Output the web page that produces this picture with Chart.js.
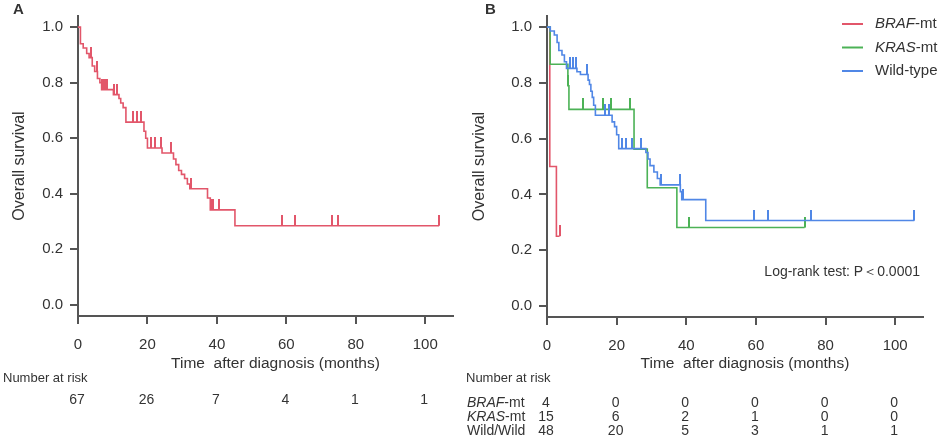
<!DOCTYPE html>
<html>
<head>
<meta charset="utf-8">
<title>Overall survival</title>
<script src="https://cdn.jsdelivr.net/npm/chart.js@4.4.1/dist/chart.umd.min.js"></script>
<style>
	body { margin: 0; background: #fff; }
	#wrap { position: relative; width: 945px; height: 439px; overflow: hidden; }
	#chartA { position: absolute; left: 0; top: 0; }
	#chartB { position: absolute; left: 460px; top: 0; }
</style>
<script>
// ticks shared by both panels
var xTicks = [0, 20, 40, 60, 80, 100];
var yTicks = [0, 0.2, 0.4, 0.6, 0.8, 1.0];

// panel A - all patients (time in months, survival after each step)
var allTime = [0, 0.7, 1.5, 2.5, 3.2, 4.1, 4.8, 5.6, 6.3, 6.8, 10.2, 11.8, 12.3, 13.0, 13.8, 19.0, 19.5, 20.0, 24.2, 27.5, 28.2, 29.0, 29.8, 30.7, 31.5, 32.2, 37.3, 38.1, 45.2, 104];
var allSurv = [1, 0.94, 0.925, 0.905, 0.89, 0.86, 0.84, 0.815, 0.80, 0.775, 0.757, 0.743, 0.727, 0.71, 0.658, 0.625, 0.60, 0.565, 0.547, 0.525, 0.505, 0.484, 0.47, 0.455, 0.435, 0.418, 0.385, 0.342, 0.285, 0.285];
var allCensor = [3.6, 5.5, 6.9, 7.4, 7.9, 8.3, 10.5, 11.3, 15.8, 16.9, 18.2, 21.1, 22.3, 23.8, 26.8, 32.6, 38.4, 39.0, 40.6, 58.8, 62.5, 73.1, 75.0, 104];
var riskAll = [67, 26, 7, 4, 1, 1];

// panel B - by mutation status
var brafTime = [0, 0.8, 2.7, 3.6];
var brafSurv = [1, 0.5, 0.25, 0.25];
var brafCensor = [3.6];

var krasTime = [0, 0.9, 6.0, 6.3, 25.0, 28.8, 37.3, 74.0];
var krasSurv = [1, 0.867, 0.79, 0.705, 0.5625, 0.424, 0.281, 0.281];
var krasCensor = [6.1, 10.2, 16.1, 18.4, 23.7, 40.8, 74.0];

var wildTime = [0, 0.95, 2.1, 2.9, 3.4, 4.3, 5.0, 5.6, 8.6, 9.6, 11.8, 12.2, 12.6, 13.0, 13.4, 13.9, 18.7, 19.4, 20.0, 20.6, 28.4, 29.0, 29.6, 30.7, 31.7, 32.5, 38.3, 38.7, 45.6, 105.5];
var wildSurv = [1, 0.986, 0.972, 0.945, 0.916, 0.9, 0.876, 0.852, 0.84, 0.83, 0.81, 0.794, 0.77, 0.748, 0.72, 0.684, 0.66, 0.643, 0.614, 0.564, 0.55, 0.527, 0.503, 0.48, 0.457, 0.434, 0.41, 0.381, 0.306, 0.306];
var wildCensor = [6.5, 7.6, 8.2, 11.5, 16.8, 17.8, 21.6, 22.8, 24.5, 26.9, 32.8, 38.2, 39.0, 59.6, 63.4, 75.9, 105.5];

var riskBraf = [4, 0, 0, 0, 0, 0];
var riskKras = [15, 6, 2, 1, 0, 0];
var riskWild = [48, 20, 5, 3, 1, 1];

var fam = '"Liberation Sans", Arial, sans-serif';
var axisColor = '#555';
var textColor = '#333';
var red = '#e2566a', green = '#4cb256', blue = '#5087e6';
</script>
</head>
<body>
<div id="wrap">
	<canvas id="chartA" width="460" height="439" style="width:460px;height:439px"></canvas>
	<canvas id="chartB" width="485" height="439" style="width:485px;height:439px"></canvas>
</div>
<script>
Chart.defaults.font.family = fam;
Chart.defaults.color = textColor;

// value of the step curve at time t
function survAt(times, surv, t) {
	var s = surv[0];
	for (var i = 0; i < times.length; i++) {
		if (times[i] <= t) s = surv[i];
	}
	return s;
}

// little vertical mark standing on the curve, used for censored cases
function censorMark(color) {
	var c = document.createElement('canvas');
	c.width = 2; c.height = 22;
	var g = c.getContext('2d');
	g.fillStyle = color;
	g.fillRect(0, 0, 2, 11);
	return c;
}

function curve(times, surv, color, order) {
	return {
		data: times.map(function(t, i){ return {x: t, y: surv[i]}; }),
		borderColor: color, borderWidth: 1.6, stepped: 'before',
		pointRadius: 0, fill: false, order: order
	};
}

function censors(cens, times, surv, color, order) {
	return {
		data: cens.map(function(t){ return {x: t, y: survAt(times, surv, t)}; }),
		showLine: false, pointStyle: censorMark(color), pointRadius: 5,
		borderColor: color, backgroundColor: color, order: order
	};
}

function makeScales(yWidth, xHeight) {
	return {
		x: {
			type: 'linear', min: 0, max: 108,
			afterBuildTicks: function(s){ s.ticks = xTicks.map(function(v){ return {value: v}; }); },
			afterFit: function(s){ s.height = xHeight; },
			grid: { drawOnChartArea: false, tickLength: 8, color: axisColor, lineWidth: 2 },
			border: { color: axisColor, width: 2 },
			ticks: { padding: 12, autoSkip: false, maxRotation: 0, color: textColor, font: { size: 15 } }
		},
		y: {
			type: 'linear', min: -0.04, max: 1.04,
			afterBuildTicks: function(s){ s.ticks = yTicks.map(function(v){ return {value: v}; }); },
			afterFit: function(s){ s.width = yWidth; },
			grid: { drawOnChartArea: false, tickLength: 8, color: axisColor, lineWidth: 2 },
			border: { color: axisColor, width: 2 },
			ticks: { padding: 7, color: textColor, font: { size: 15 },
				callback: function(v){ return v.toFixed(1); } },
			title: { display: true, text: 'Overall survival', color: textColor,
				font: { size: 16 }, padding: { top: 10, bottom: 0 } }
		}
	};
}

// writes text pieces one after the other, some of them in italics
function drawParts(ctx, parts, x, y, size) {
	parts.forEach(function(p){
		ctx.font = (p[1] ? 'italic ' : '') + size + 'px ' + fam;
		ctx.fillText(p[0], x, y);
		x += ctx.measureText(p[0]).width;
	});
	return x;
}

function drawBottom(chart, rows, labelX) {
	var ctx = chart.ctx, xs = chart.scales.x, area = chart.chartArea;
	ctx.save();
	ctx.fillStyle = textColor;
	ctx.textBaseline = 'middle';
	ctx.textAlign = 'center';
	ctx.font = '15.5px ' + fam;
	ctx.fillText('Time  after diagnosis (months)', (area.left + area.right) / 2 + 10, 364);
	ctx.textAlign = 'left';
	ctx.font = '13px ' + fam;
	ctx.fillText('Number at risk', labelX, 378);
	rows.forEach(function(r){
		ctx.textAlign = 'left';
		if (r.label) drawParts(ctx, r.label, labelX + 1, r.y, 14);
		ctx.textAlign = 'center';
		ctx.font = '14px ' + fam;
		xTicks.forEach(function(t, i){
			ctx.fillText(String(r.values[i]), xs.getPixelForValue(t) - 1, r.y);
		});
	});
	ctx.restore();
}

var extrasA = {
	id: 'extrasA',
	afterDraw: function(chart) {
		var ctx = chart.ctx;
		ctx.save();
		ctx.fillStyle = textColor;
		ctx.textBaseline = 'middle';
		ctx.font = 'bold 15px ' + fam;
		ctx.fillText('A', 13, 10);
		ctx.restore();
		drawBottom(chart, [{ values: riskAll, y: 400 }], 3);
	}
};

var extrasB = {
	id: 'extrasB',
	afterDraw: function(chart) {
		var ctx = chart.ctx;
		ctx.save();
		ctx.fillStyle = textColor;
		ctx.textBaseline = 'middle';
		ctx.font = 'bold 15px ' + fam;
		ctx.fillText('B', 25, 10);
		// legend
		var items = [
			[red, [['BRAF', true], ['-mt', false]]],
			[green, [['KRAS', true], ['-mt', false]]],
			[blue, [['Wild-type', false]]]
		];
		items.forEach(function(it, i){
			var y = 24 + i * 23.5;
			ctx.strokeStyle = it[0];
			ctx.lineWidth = 2;
			ctx.beginPath();
			ctx.moveTo(382, y); ctx.lineTo(403, y);
			ctx.stroke();
			ctx.fillStyle = textColor;
			drawParts(ctx, it[1], 415, y, 15);
		});
		ctx.textAlign = 'right';
		ctx.font = '14px ' + fam;
		ctx.fillText('Log-rank test: P\uFF1C0.0001', 460, 272);
		ctx.restore();
		drawBottom(chart, [
			{ label: [['BRAF', true], ['-mt', false]], values: riskBraf, y: 403 },
			{ label: [['KRAS', true], ['-mt', false]], values: riskKras, y: 417 },
			{ label: [['Wild/Wild', false]], values: riskWild, y: 431 }
		], 6);
	}
};

var common = {
	responsive: false,
	animation: false,
	events: [],
	plugins: { legend: { display: false }, tooltip: { enabled: false } }
};

new Chart(document.getElementById('chartA').getContext('2d'), {
	type: 'line',
	data: { datasets: [
		curve(allTime, allSurv, red, 2),
		censors(allCensor, allTime, allSurv, red, 1)
	] },
	options: Object.assign({}, common, {
		layout: { padding: { left: 0, top: 5, right: 7, bottom: 0 } },
		scales: makeScales(78, 123)
	}),
	plugins: [extrasA]
});

new Chart(document.getElementById('chartB').getContext('2d'), {
	type: 'line',
	data: { datasets: [
		curve(brafTime, brafSurv, red, 6),
		censors(brafCensor, brafTime, brafSurv, red, 5),
		curve(krasTime, krasSurv, green, 4),
		censors(krasCensor, krasTime, krasSurv, green, 3),
		curve(wildTime, wildSurv, blue, 2),
		censors(wildCensor, wildTime, wildSurv, blue, 1)
	] },
	options: Object.assign({}, common, {
		layout: { padding: { left: 0, top: 7, right: 22, bottom: 0 } },
		scales: makeScales(87, 122)
	}),
	plugins: [extrasB]
});
</script>
</body>
</html>
